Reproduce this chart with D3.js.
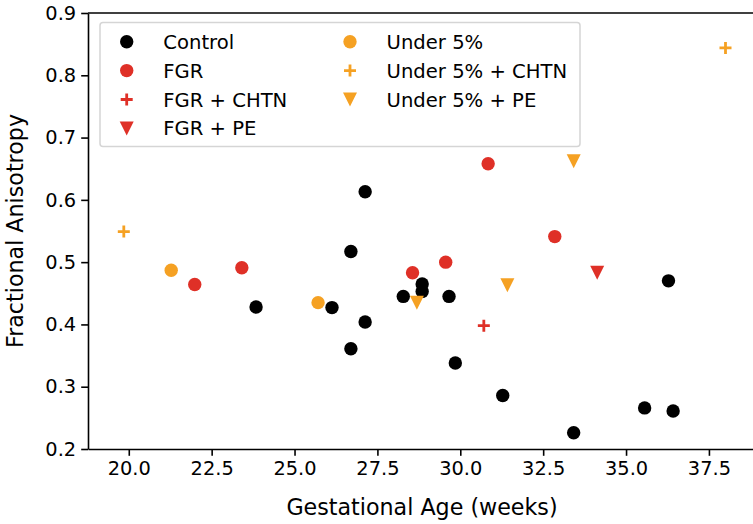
<!DOCTYPE html>
<html>
<head>
<meta charset="utf-8">
<script src="https://cdn.jsdelivr.net/npm/d3@7"></script>
<style>
  body { margin: 0; background: #fff; }
  text { font-family: "DejaVu Sans", sans-serif; fill: #000; }
</style>
</head>
<body>
<div id="chart"></div>
<script>
// values: [gestational age, FA]
var control = [[23.84,0.428],[27.13,0.613],[26.70,0.517],[28.85,0.465],[28.85,0.453],[28.28,0.445],
  [29.66,0.445],[26.13,0.427],[27.13,0.404],[26.70,0.361],[29.85,0.338],[31.28,0.286],
  [35.56,0.266],[36.42,0.261],[33.42,0.226],[36.28,0.470]];
var fgr = [[21.99,0.464],[23.41,0.491],[28.56,0.483],[29.56,0.500],[30.84,0.658],[32.85,0.541]];
var fgrChtn = [[30.71,0.398]];
var fgrPe = [[34.13,0.483]];
var under5 = [[21.28,0.487],[25.71,0.435]];
var under5Chtn = [[19.85,0.549],[38.0,0.844]];
var under5Pe = [[28.69,0.435],[31.42,0.463],[33.42,0.662]];

var xTicks = [20, 22.5, 25, 27.5, 30, 32.5, 35, 37.5];
var yTicks = [0.2, 0.3, 0.4, 0.5, 0.6, 0.7, 0.8, 0.9];

var red = "#df3027", orange = "#f5a123";

var groups = [
  {name: "Control", data: control, color: "#000", shape: "circle"},
  {name: "FGR", data: fgr, color: red, shape: "circle"},
  {name: "FGR + CHTN", data: fgrChtn, color: red, shape: "plus"},
  {name: "FGR + PE", data: fgrPe, color: red, shape: "tri"},
  {name: "Under 5%", data: under5, color: orange, shape: "circle"},
  {name: "Under 5% + CHTN", data: under5Chtn, color: orange, shape: "plus"},
  {name: "Under 5% + PE", data: under5Pe, color: orange, shape: "tri"}
];

var width = 753, height = 524;
var x = d3.scaleLinear().domain([18.77, 38.92]).range([88, 756]);
var y = d3.scaleLinear().domain([0.2, 0.9]).range([449, 13]);

var svg = d3.select("#chart").append("svg")
    .attr("width", width).attr("height", height);

function marker(sel, shape, color) {
  if (shape == "circle") {
    sel.append("circle").attr("r", 6.7).attr("fill", color);
  } else if (shape == "plus") {
    sel.append("path").attr("d", "M-6,0H6M0,-6V6")
      .attr("stroke", color).attr("stroke-width", 2.8).attr("fill", "none");
  } else {
    sel.append("path").attr("d", "M-7,-7L7,-7L0,7Z").attr("fill", color);
  }
}

// points
groups.forEach(function(g) {
  svg.append("g").selectAll("g")
    .data(g.data)
    .enter().append("g")
    .attr("transform", function(d) { return "translate(" + x(d[0]) + "," + y(d[1]) + ")"; })
    .each(function() { marker(d3.select(this), g.shape, g.color); });
});

// axes
var xAxis = svg.append("g").attr("transform", "translate(0,449)")
  .call(d3.axisBottom(x).tickValues(xTicks).tickFormat(d3.format(".1f")).tickSizeInner(6.8).tickSizeOuter(0).tickPadding(5));
var yAxis = svg.append("g").attr("transform", "translate(88,0)")
  .call(d3.axisLeft(y).tickValues(yTicks).tickFormat(d3.format(".1f")).tickSizeInner(6.8).tickSizeOuter(0).tickPadding(5));
[xAxis, yAxis].forEach(function(a) {
  a.select(".domain").attr("stroke-width", 1.6);
  a.selectAll(".tick line").attr("stroke-width", 1.6);
  a.selectAll(".tick text").style("font-size", "19.4px").attr("font-family", null);
});
svg.append("line").attr("x1", 88).attr("x2", 756).attr("y1", 13).attr("y2", 13)
  .attr("stroke", "#000").attr("stroke-width", 1.6);

svg.append("text").attr("x", 422).attr("y", 515).attr("text-anchor", "middle")
  .style("font-size", "22.2px").text("Gestational Age (weeks)");
svg.append("text").attr("transform", "translate(23,231) rotate(-90)").attr("text-anchor", "middle")
  .style("font-size", "22.2px").text("Fractional Anisotropy");

// legend
var legend = svg.append("g");
legend.append("rect").attr("x", 100).attr("y", 22.5).attr("width", 480).attr("height", 124)
  .attr("rx", 3).attr("fill", "#fff").attr("fill-opacity", 0.8)
  .attr("stroke", "#d5d5d5").attr("stroke-width", 1.5);
var item = legend.selectAll(".item")
  .data(groups)
  .enter().append("g")
  .attr("class", "item")
  .attr("transform", function(d, i) {
    var col = i < 4 ? 0 : 1, row = i < 4 ? i : i - 4;
    return "translate(" + (col ? 350 : 126.7) + "," + (41.7 + row * 28.9) + ")";
  });
item.each(function(d) { marker(d3.select(this), d.shape, d.color); });
item.append("text").attr("x", 36.6).attr("dy", "0.36em")
  .style("font-size", "19.6px").text(function(d) { return d.name; });
</script>
</body>
</html>
